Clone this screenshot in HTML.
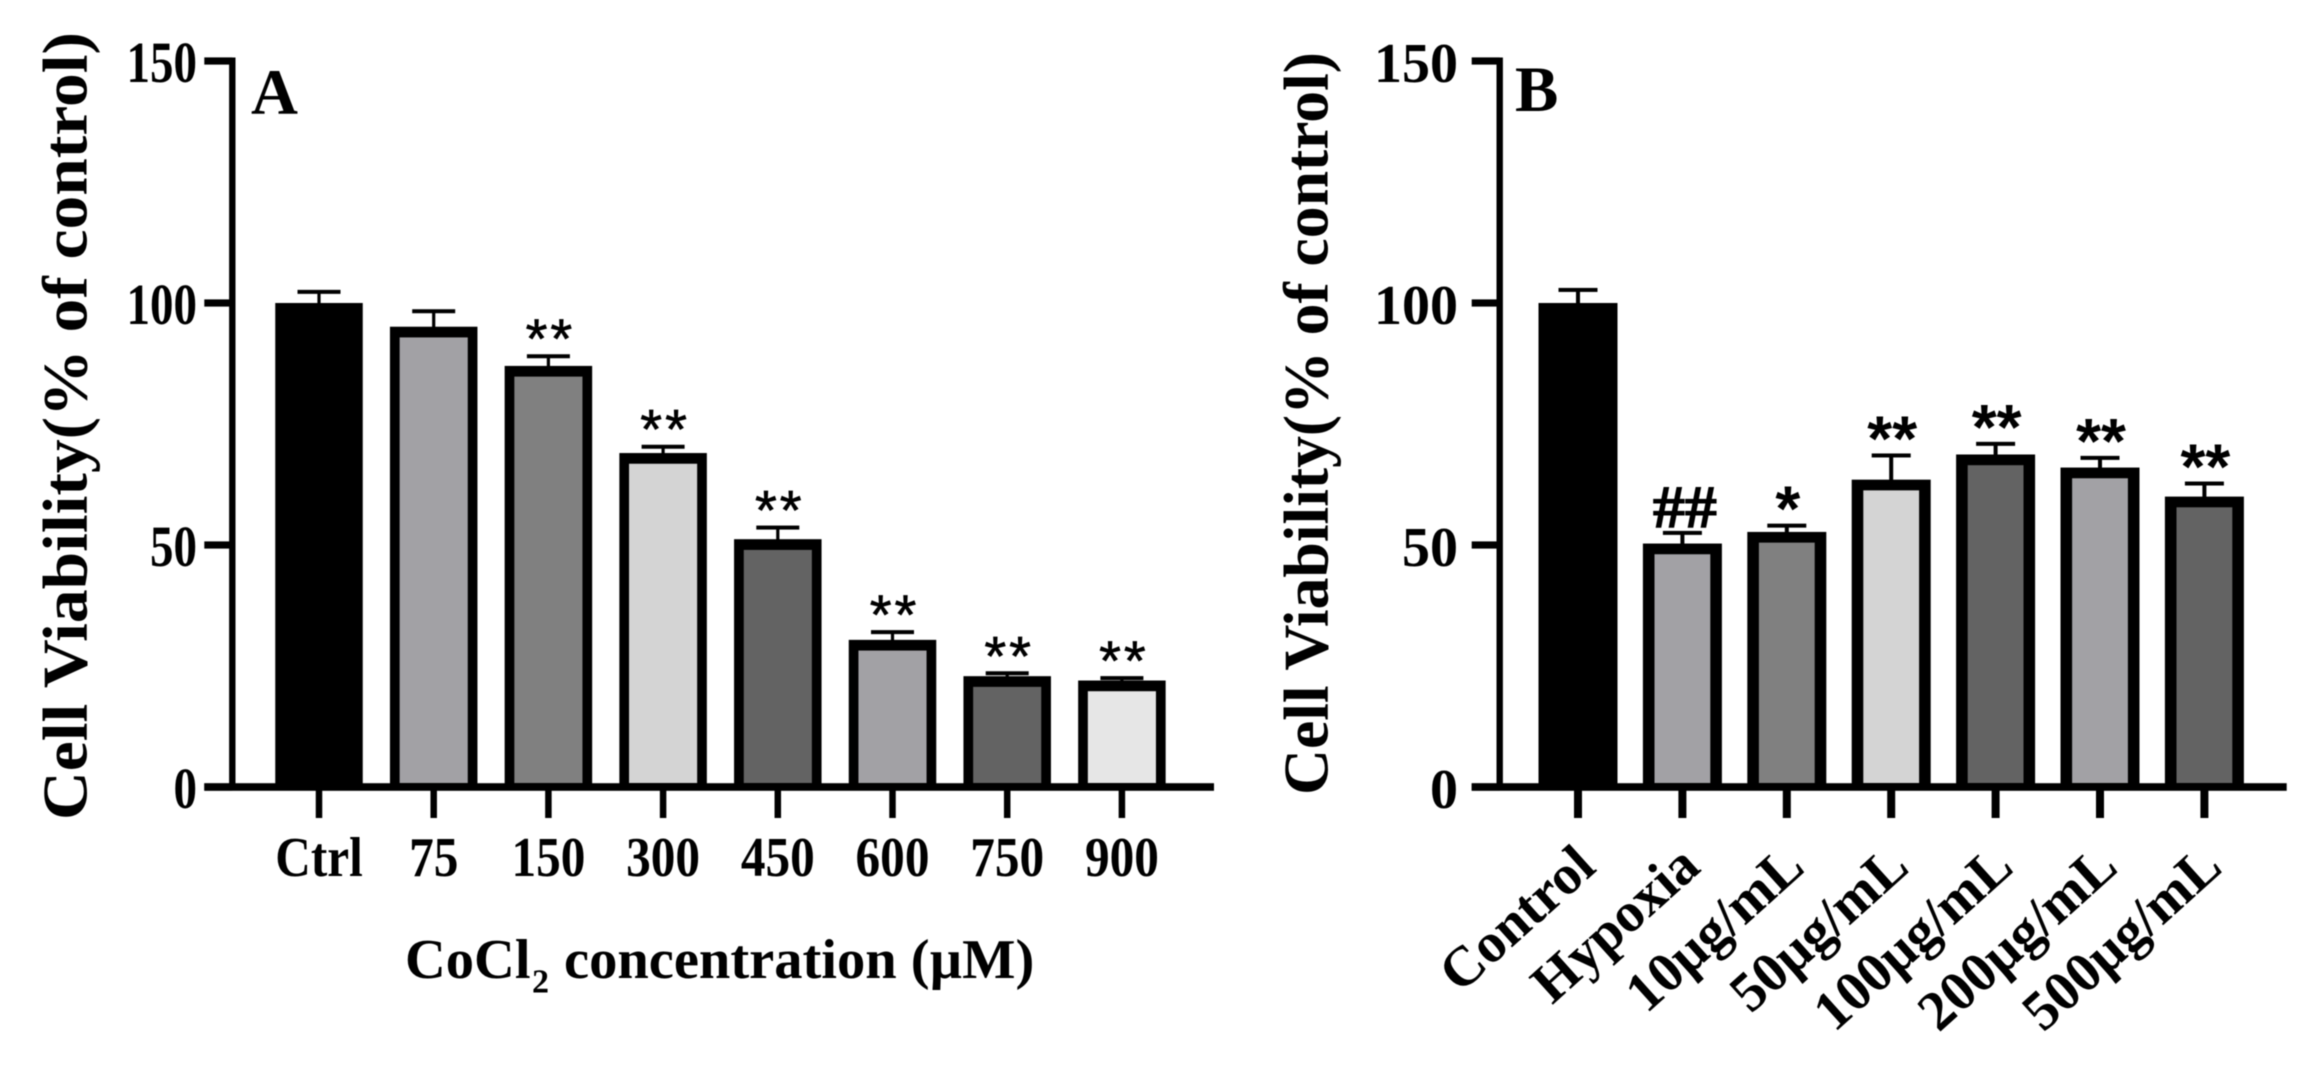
<!DOCTYPE html>
<html lang="en">
<head>
<meta charset="utf-8">
<title>Cell viability bar charts</title>
<style>
html,body{margin:0;padding:0;background:#fff;}
svg{display:block;filter:blur(0.6px);}
text{font-family:"Liberation Serif",serif;font-weight:700;fill:#000;}
.star{font-family:"Liberation Sans",sans-serif;font-weight:400;stroke:#000;stroke-width:0.7;}
.star-bold{font-family:"Liberation Sans",sans-serif;font-weight:700;}
.hash{stroke:#000;stroke-width:1;}
</style>
</head>
<body>
<svg id="chart" xmlns="http://www.w3.org/2000/svg" width="2307" height="1069" viewBox="0 0 2307 1069">
<rect width="2307" height="1069" fill="#ffffff"/>
</svg>
<script>
const categoriesA = ["Ctrl","75","150","300","450","600","750","900"];
const meansA = [100,95.1,87,69,51.2,30.4,22.9,22];
const errorsA = [2.3,3.2,2,1.3,2.4,1.6,0.6,0.5];
const marksA = ["","","**","**","**","**","**","**"];
const fillsA = ["#000000","#a2a1a5","#808080","#d4d4d4","#636363","#a2a1a5","#636363","#e6e6e6"];

const categoriesB = ["Control","Hypoxia","10µg/mL","50µg/mL","100µg/mL","200µg/mL","500µg/mL"];
const meansB = [100,50.3,52.7,63.5,68.7,66,60];
const errorsB = [2.7,2.2,1.3,5,2.2,2,2.7];
const marksB = ["","##","*","**","**","**","**"];
const fillsB = ["#000000","#a2a1a5","#808080","#d4d4d4","#636363","#a2a1a5","#636363"];

const yTicks = [0,50,100,150];

const svg = document.getElementById('chart');
const NS = 'http://www.w3.org/2000/svg';
function yScale(v){ return 787 - v * 4.84; }

function shape(tag, attrs, parent){
  const el = document.createElementNS(NS, tag);
  for (const k in attrs) el.setAttribute(k, attrs[k]);
  parent.appendChild(el);
  return el;
}

function drawPanel(p){
  const g = shape('g', {}, svg);
  
  

  p.means.forEach(function(v, i){
    const cx = p.x0 + p.pitch * i;
    const top = yScale(v);
    const capY = yScale(v + p.errors[i]);
    const barG = shape('g', {}, g);
    
    

    const stem = shape('rect', {x: cx - p.stem / 2, y: capY, width: p.stem, height: top - capY + 1, fill: '#000'}, barG);
    
    
    const cap = shape('rect', {x: cx - p.capW / 2, y: capY - 2, width: p.capW, height: 4, fill: '#000'}, barG);
    
    

    const outer = shape('rect', {x: cx - p.barW / 2, y: top, width: p.barW, height: 787 - top, fill: '#000'}, barG);
    
    
    const inner = shape('rect', {x: cx - p.barW / 2 + p.side, y: top + 10.7, width: p.barW - 2 * p.side, height: Math.max(0, 783 - top - 10.7), fill: p.fills[i]}, barG);
    
    

    if (p.marks[i] === '##') {
      const hash = shape('text', {class: 'hash', x: cx + 2.5, y: capY - 6, 'font-size': 60, 'text-anchor': 'middle', textLength: 64, lengthAdjust: 'spacingAndGlyphs'}, barG);
      hash.textContent = p.marks[i];
      
      
    } else if (p.marks[i]) {
      const star = shape('text', {class: p.starClass, x: cx + p.starDx, y: capY - p.starGap + p.starDrop, 'font-size': p.starSize, 'text-anchor': 'middle', 'letter-spacing': p.starSpace}, barG);
      star.textContent = p.marks[i];
      
      
    }

    const tick = shape('rect', {x: cx - p.tickW / 2, y: 787, width: p.tickW, height: 31, fill: '#000'}, g);
    
    

    if (p.rotated) {
      const lab = shape('text', {transform: 'translate(' + (cx + 20) + ',870) rotate(-42)', 'font-size': 56, 'text-anchor': 'end'}, g);
      lab.textContent = p.categories[i];
      
      
    } else {
      const lab = shape('text', {transform: 'translate(' + cx + ',876) scale(0.88,1)', 'font-size': 56, 'text-anchor': 'middle'}, g);
      lab.textContent = p.categories[i];
      
      
    }
  });

  const yAxis = shape('rect', {x: p.axisX - 3.2, y: yScale(150) - 3.5, width: 6.4, height: 787 - yScale(150) + 7, fill: '#000'}, g);
  
  
  const xAxis = shape('rect', {x: p.axisX - 28, y: 783.2, width: p.axisEnd - p.axisX + 28, height: 7.6, fill: '#000'}, g);
  
  

  yTicks.forEach(function(t){
    const y = yScale(t);
    const tk = shape('rect', {x: p.axisX - 28, y: y - 3.6, width: 28, height: 7.2, fill: '#000'}, g);
    
    
    const lab = shape('text', {transform: 'translate(' + p.yLabelX + ',' + (y + 21) + ') scale(' + p.yLabelScale + ',1)', 'font-size': p.yLabelSize, 'text-anchor': 'end'}, g);
    lab.textContent = String(t);
    
    
  });

  const title = shape('text', {transform: 'translate(' + p.titleX + ',' + p.titleY + ') rotate(-90)', 'font-size': 64, textLength: p.titleLen, lengthAdjust: 'spacingAndGlyphs'}, g);
  title.textContent = 'Cell Viability(% of control)';
  
  

  const letter = shape('text', {x: p.letterX, y: p.letterY, 'font-size': 65}, g);
  letter.textContent = p.letter;
  
  
}

drawPanel({
  name: 'panel-a', letter: 'A', categories: categoriesA, means: meansA, errors: errorsA, marks: marksA, fills: fillsA,
  x0: 319, pitch: 114.7, barW: 87.5, side: 9.7, stem: 3.2, capW: 43, tickW: 6.5,
  axisX: 232.3, axisEnd: 1214, yLabelX: 197, yLabelScale: 0.81, yLabelSize: 58,
  titleX: 86.5, titleY: 820, titleLen: 788, letterX: 251, letterY: 113.5,
  starSize: 56, starSpace: 3, starGap: 24, starDrop: 26, starDx: 2, starClass: 'star', rotated: false
});
drawPanel({
  name: 'panel-b', letter: 'B', categories: categoriesB, means: meansB, errors: errorsB, marks: marksB, fills: fillsB,
  x0: 1578, pitch: 104.4, barW: 79, side: 11.6, stem: 4, capW: 39, tickW: 8,
  axisX: 1499.7, axisEnd: 2286.7, yLabelX: 1458, yLabelScale: 1, yLabelSize: 56,
  titleX: 1327.7, titleY: 795, titleLen: 743, letterX: 1515, letterY: 111,
  starSize: 64, starSpace: 0, starGap: 24, starDrop: 29, starDx: 1, starClass: 'star-bold', rotated: true
});

const xTitle = shape('text', {y: 978, 'font-size': 56.5}, svg);


const t1 = shape('tspan', {x: 405}, xTitle);
t1.textContent = 'CoCl';
const t2 = shape('tspan', {x: 532, y: 992.5, 'font-size': 34}, xTitle);
t2.textContent = '2';
const t3 = shape('tspan', {x: 564, y: 978}, xTitle);
t3.textContent = 'concentration (µM)';
</script>
</body>
</html>
